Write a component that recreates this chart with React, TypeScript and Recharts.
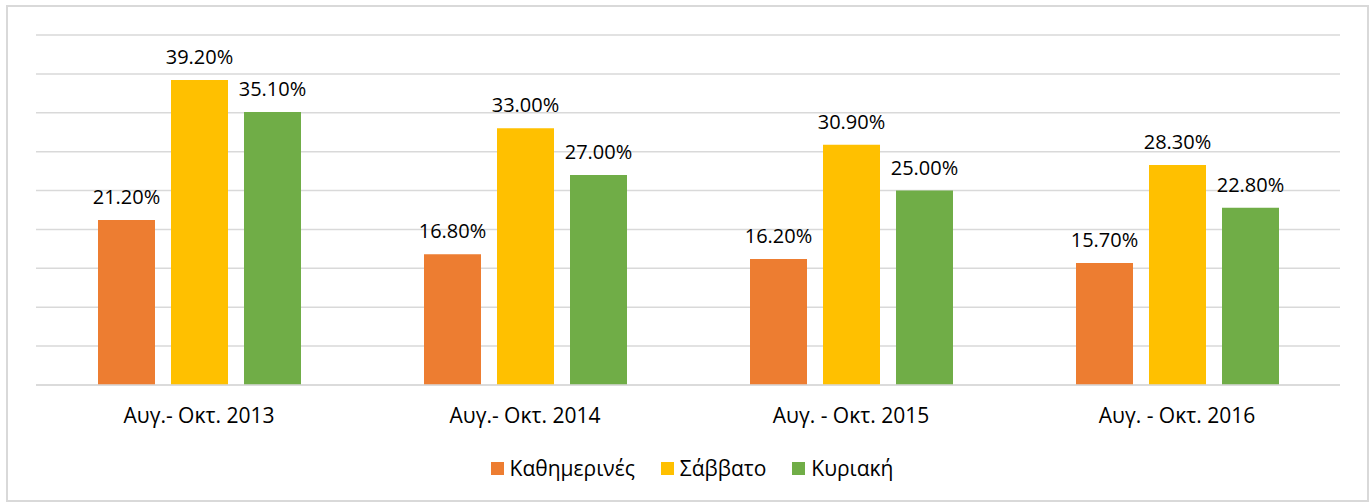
import { BarChart, Bar, XAxis, YAxis, CartesianGrid, LabelList } from 'recharts'

const periods = ['Αυγ.- Οκτ. 2013', 'Αυγ.- Οκτ. 2014', 'Αυγ. - Οκτ. 2015', 'Αυγ. - Οκτ. 2016']
const weekdays = [21.2, 16.8, 16.2, 15.7]
const saturday = [39.2, 33.0, 30.9, 28.3]
const sunday = [35.1, 27.0, 25.0, 22.8]
const yTicks = [0, 5, 10, 15, 20, 25, 30, 35, 40, 45]

const series = [
  { key: 'weekdays', name: 'Καθημερινές', color: '#ED7D31' },
  { key: 'saturday', name: 'Σάββατο', color: '#FFC000' },
  { key: 'sunday', name: 'Κυριακή', color: '#70AD47' },
]

const data = periods.map((p, i) => ({
  name: p,
  weekdays: weekdays[i],
  saturday: saturday[i],
  sunday: sunday[i],
}))

const FONT = '"Open Sans", "Noto Sans", sans-serif'
const fmt = (v: number) => `${v.toFixed(2)}%`

export default function App() {
  return (
    <div style={{ position: 'absolute', left: 0, top: 0, width: 1370, height: 503, background: '#fff', fontFamily: FONT }}>
      <div style={{ position: 'absolute', left: 6, top: 5, width: 1359, height: 493, border: '2px solid #d9d9d9' }} />
      <div style={{ position: 'absolute', left: 0, top: 0 }}>
        <BarChart
          width={1370}
          height={503}
          data={data}
          margin={{ top: 35, right: 30, left: 36, bottom: 88 }}
          barSize={57}
          barGap={16}
        >
          <CartesianGrid vertical={false} stroke="#d9d9d9" strokeWidth={1.5} />
          <YAxis hide domain={[0, 45]} ticks={yTicks} />
          <XAxis
            dataKey="name"
            height={30}
            axisLine={{ stroke: '#d9d9d9', strokeWidth: 1.5 }}
            tickLine={false}
            tickSize={0}
            tickMargin={23}
            tick={{ fill: '#000', fontSize: 21, fontFamily: FONT }}
          />
          {series.map(s => (
            <Bar key={s.key} dataKey={s.key} name={s.name} fill={s.color} isAnimationActive={false}>
              <LabelList dataKey={s.key} position="top" offset={16} formatter={(v: number) => fmt(v)}
                style={{ fill: '#000', fontSize: 20, fontFamily: FONT }} />
            </Bar>
          ))}
        </BarChart>
      </div>
      <div style={{ position: 'absolute', left: 0, top: 454, width: 1370, paddingLeft: 14, boxSizing: 'border-box', display: 'flex', justifyContent: 'center', alignItems: 'center', fontSize: 21, color: '#000' }}>
        {series.map((s, i) => (
          <div key={s.key} style={{ display: 'flex', alignItems: 'center', marginLeft: i === 0 ? 0 : 26 }}>
            <span style={{ display: 'inline-block', width: 13, height: 13, background: s.color, marginRight: 6 }} />
            <span>{s.name}</span>
          </div>
        ))}
      </div>
    </div>
  )
}
